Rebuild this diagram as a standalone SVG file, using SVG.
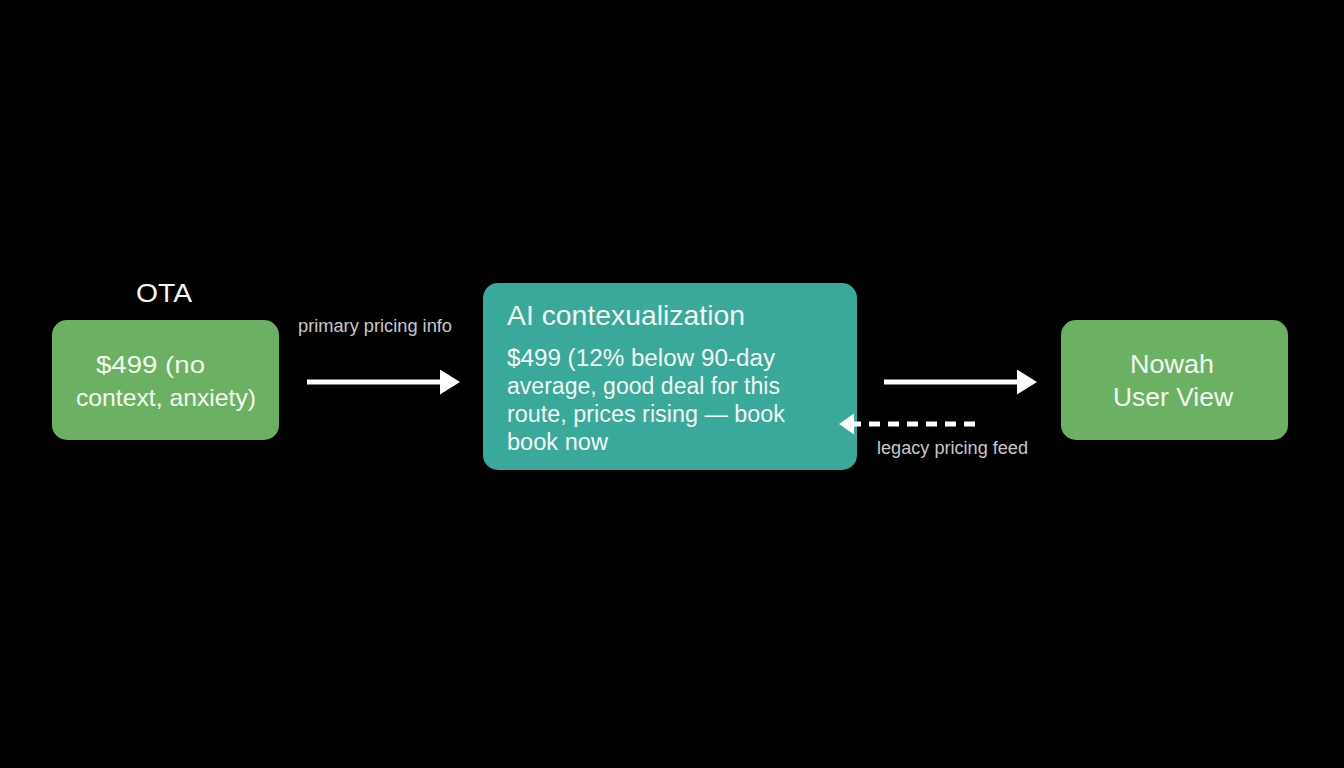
<svg xmlns="http://www.w3.org/2000/svg" width="1344" height="768" viewBox="0 0 1344 768">
<defs>
<style>
.box{fill:#6cb163}
.teal{fill:#3aa89b}
.t{font-family:"Liberation Sans",Arial,sans-serif;fill:#f4f8f2}
.lbl{font-family:"Liberation Sans",Arial,sans-serif;fill:#c8c8c8;font-size:17.5px}
.conn{stroke:#ffffff;stroke-width:5;fill:none}
</style>
<marker id="ah" markerWidth="5" markerHeight="5" refX="0" refY="2.5" orient="auto" markerUnits="strokeWidth">
<path d="M0,0 L4,2.5 L0,5 Z" fill="#ffffff"/>
</marker>
<marker id="ah2" markerWidth="5" markerHeight="5" refX="0" refY="2.5" orient="auto" markerUnits="strokeWidth">
<path d="M0,0.4 L3,2.5 L0,4.6 Z" fill="#ffffff"/>
</marker>
</defs>
<rect width="1344" height="768" fill="#000000"/>
<g id="ota">
<text class="t" x="136" y="302" font-size="26" textLength="56" lengthAdjust="spacingAndGlyphs">OTA</text>
<rect class="box" x="52" y="320" width="227" height="120" rx="15"/>
<text class="t" x="96" y="373" font-size="24" textLength="109" lengthAdjust="spacingAndGlyphs">$499 (no</text>
<text class="t" x="76" y="406" font-size="24" textLength="180" lengthAdjust="spacingAndGlyphs">context, anxiety)</text>
</g>
<g id="ai">
<rect class="teal" x="483" y="283" width="374" height="187" rx="15"/>
<text class="t" x="507" y="325" font-size="28" textLength="238" lengthAdjust="spacingAndGlyphs">AI contexualization</text>
<text class="t" x="507" y="366" font-size="23" textLength="268" lengthAdjust="spacingAndGlyphs">$499 (12% below 90-day</text>
<text class="t" x="507" y="394" font-size="23" textLength="273" lengthAdjust="spacingAndGlyphs">average, good deal for this</text>
<text class="t" x="507" y="422" font-size="23" textLength="278" lengthAdjust="spacingAndGlyphs">route, prices rising — book</text>
<text class="t" x="507" y="450" font-size="23" textLength="101" lengthAdjust="spacingAndGlyphs">book now</text>
</g>
<g id="nowah">
<rect class="box" x="1061" y="320" width="227" height="120" rx="15"/>
<text class="t" x="1172" y="373" font-size="26" text-anchor="middle" textLength="84" lengthAdjust="spacingAndGlyphs">Nowah</text>
<text class="t" x="1173" y="406" font-size="26" text-anchor="middle" textLength="120" lengthAdjust="spacingAndGlyphs">User View</text>
</g>
<g id="connectors">
<line class="conn" x1="307" y1="382" x2="440" y2="382" marker-end="url(#ah)"/>
<text class="lbl" x="298" y="332" textLength="154" lengthAdjust="spacingAndGlyphs">primary pricing info</text>
<line class="conn" x1="884" y1="382" x2="1017" y2="382" marker-end="url(#ah)"/>
<line class="conn" x1="975" y1="424" x2="854" y2="424" stroke-width="3.5" stroke-dasharray="11,8" marker-end="url(#ah2)"/>
<text class="lbl" x="877" y="454" textLength="151" lengthAdjust="spacingAndGlyphs">legacy pricing feed</text>
</g>
</svg>
